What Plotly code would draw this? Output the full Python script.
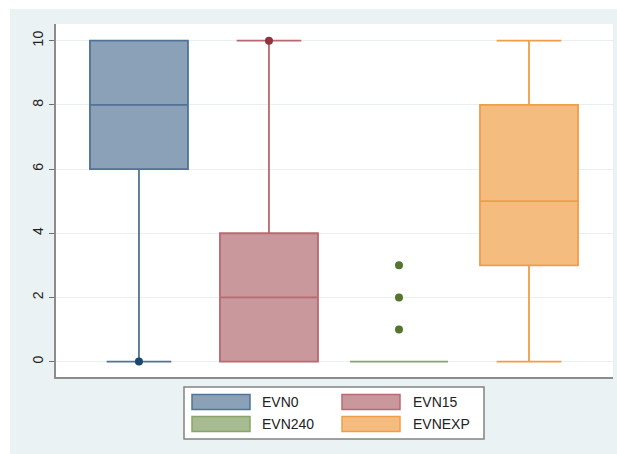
import plotly.graph_objects as go

# ---- data ----
series = ["EVN0", "EVN15", "EVN240", "EVNEXP"]
q1 = [6, 0, 0, 3]
median = [8, 2, 0, 5]
q3 = [10, 4, 0, 8]
lower_adj = [0, 0, 0, 0]
upper_adj = [10, 10, 0, 10]
outlier_x = ["EVN0", "EVN15", "EVN240", "EVN240", "EVN240"]
outlier_y = [0, 10, 1, 2, 3]
y_ticks = [0, 2, 4, 6, 8, 10]

# ---- styles ----
fills = ["rgb(139,161,184)", "rgb(200,152,156)", "rgb(168,186,146)", "rgb(244,188,126)"]
lines = ["rgb(80,115,150)", "rgb(185,105,112)", "rgb(135,165,105)", "rgb(238,158,72)"]
dots = ["rgb(26,71,111)", "rgb(144,53,59)", "rgb(85,117,47)", "rgb(232,125,30)"]
BG = "rgb(234,242,243)"

W, H = 617, 454
ML, MR, MT, MB = 56, 4, 24, 77
PW, PH = W - ML - MR, H - MT - MB


def px(xp):
    return (xp - ML) / PW


def py(yp):
    return (H - MB - yp) / PH


fig = go.Figure()
pos = {s: i for i, s in enumerate(series)}
for i, s in enumerate(series):
    fig.add_trace(go.Box(
        x=[i], q1=[q1[i]], median=[median[i]], q3=[q3[i]],
        lowerfence=[lower_adj[i]], upperfence=[upper_adj[i]],
        width=0.754, whiskerwidth=0.66, boxpoints=False,
        fillcolor=fills[i], line=dict(color=lines[i], width=1.8),
        name=s, showlegend=False, hoverinfo="skip",
    ))

for s in series:
    xs = [pos[o] for o, _ in zip(outlier_x, outlier_y) if o == s]
    ys = [v for o, v in zip(outlier_x, outlier_y) if o == s]
    if xs:
        fig.add_trace(go.Scatter(
            x=xs, y=ys, mode="markers",
            marker=dict(color=dots[pos[s]], size=8, line=dict(width=0)),
            showlegend=False, hoverinfo="skip",
        ))

shapes = [
    dict(type="rect", xref="paper", yref="paper", x0=px(10), x1=px(617),
         y0=py(454), y1=py(9), fillcolor=BG, line=dict(width=0), layer="below"),
    dict(type="rect", xref="paper", yref="paper", x0=0, x1=1,
         y0=0, y1=1, fillcolor="white", line=dict(width=0), layer="below"),
    dict(type="rect", xref="paper", yref="paper", x0=px(184), x1=px(484),
         y0=py(439), y1=py(387), fillcolor="white",
         line=dict(color="rgb(130,130,130)", width=1.5)),
]
annotations = []
leg_cols = [(192, 260), (342, 411)]
leg_rows = [402, 424]
for i, s in enumerate(series):
    cx, tx = leg_cols[i % 2]
    cy = leg_rows[i // 2]
    shapes.append(dict(type="rect", xref="paper", yref="paper",
                       x0=px(cx), x1=px(cx + 58), y0=py(cy + 7.5), y1=py(cy - 7.5),
                       fillcolor=fills[i], line=dict(color=lines[i], width=1.5)))
    annotations.append(dict(xref="paper", yref="paper", x=px(tx), y=py(cy),
                            text=s, showarrow=False, xanchor="left", yanchor="middle",
                            font=dict(size=14, color="#222222", family="Liberation Sans, Arial")))

fig.update_layout(
    width=W, height=H,
    margin=dict(l=ML, r=MR, t=MT, b=MB),
    paper_bgcolor="white", plot_bgcolor="rgba(0,0,0,0)",
    shapes=shapes, annotations=annotations,
    showlegend=False,
    font=dict(family="Liberation Sans, Arial", color="#222222"),
    xaxis=dict(range=[-0.638, 3.646], showticklabels=False, showgrid=False,
               zeroline=False, showline=True, linecolor="rgb(140,140,140)",
               linewidth=2, ticks=""),
    yaxis=dict(range=[-0.48, 10.52], tickvals=y_ticks, tickangle=-90,
               ticks="outside", ticklen=5, tickcolor="rgb(110,110,110)",
               tickfont=dict(size=14, color="#222222"),
               showgrid=True, gridcolor="rgb(232,240,241)", gridwidth=1,
               zeroline=False, showline=True, linecolor="rgb(140,140,140)",
               linewidth=2),
)

fig.write_html("out.html", config={"displayModeBar": False},
               post_script="document.body.style.margin='0';")
